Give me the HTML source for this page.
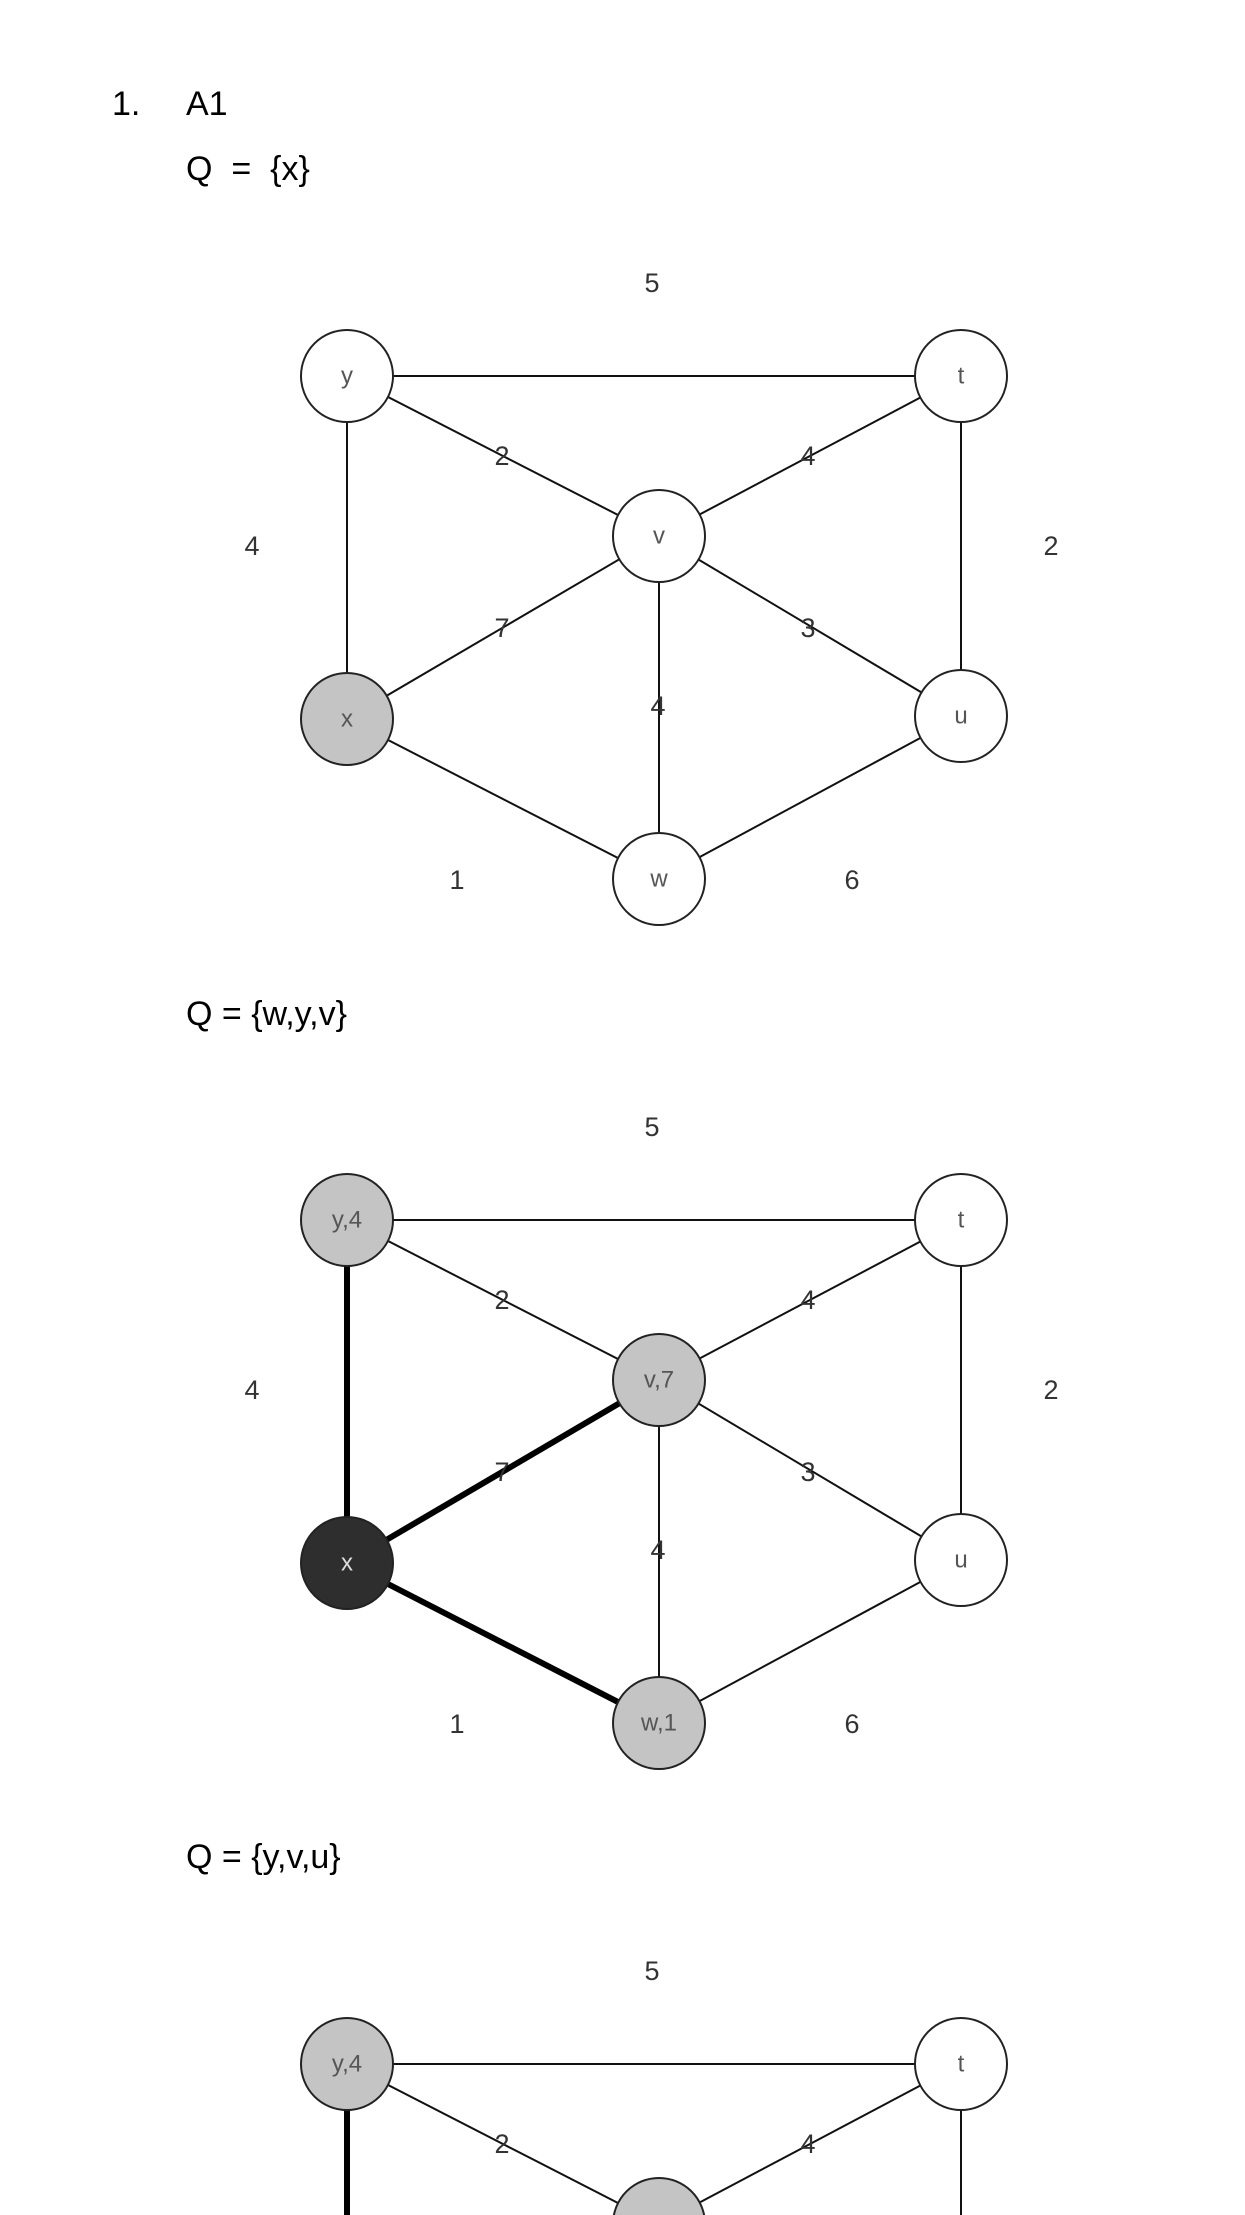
<!DOCTYPE html>
<html><head><meta charset="utf-8"><style>
html,body{margin:0;padding:0;background:#fff;width:1245px;height:2215px;overflow:hidden;}
svg{display:block;}
.t{font-family:"Liberation Sans",sans-serif;font-size:34px;fill:#000;}
.w{font-family:"Liberation Sans",sans-serif;font-size:27px;fill:#333;text-anchor:middle;dominant-baseline:central;}
.n{font-family:"Liberation Sans",sans-serif;font-size:24px;fill:#555;text-anchor:middle;dominant-baseline:central;}
</style></head><body>
<svg width="1245" height="2215" viewBox="0 0 1245 2215" xmlns="http://www.w3.org/2000/svg">
<text class="t" x="112" y="115">1.</text>
<text class="t" x="186" y="115">A1</text>
<text class="t" x="186" y="180" xml:space="preserve">Q  =  {x}</text>
<text class="t" x="186" y="1025">Q = {w,y,v}</text>
<text class="t" x="186" y="1868">Q = {y,v,u}</text>

<!-- Graph 1 -->
<g stroke="#111" stroke-width="2" fill="none">
<line x1="347" y1="376" x2="961" y2="376"/>
<line x1="347" y1="376" x2="347" y2="719"/>
<line x1="961" y1="376" x2="961" y2="716"/>
<line x1="347" y1="376" x2="659" y2="536"/>
<line x1="961" y1="376" x2="659" y2="536"/>
<line x1="347" y1="719" x2="659" y2="536"/>
<line x1="961" y1="716" x2="659" y2="536"/>
<line x1="659" y1="536" x2="659" y2="879"/>
<line x1="347" y1="719" x2="659" y2="879"/>
<line x1="961" y1="716" x2="659" y2="879"/>
</g>
<g stroke="#222" stroke-width="2">
<circle cx="347" cy="376" r="46" fill="#fff"/>
<circle cx="961" cy="376" r="46" fill="#fff"/>
<circle cx="659" cy="536" r="46" fill="#fff"/>
<circle cx="347" cy="719" r="46" fill="#c4c4c4"/>
<circle cx="961" cy="716" r="46" fill="#fff"/>
<circle cx="659" cy="879" r="46" fill="#fff"/>
</g>
<text class="n" x="347" y="376">y</text><text class="n" x="961" y="376">t</text>
<text class="n" x="659" y="536">v</text><text class="n" x="347" y="719">x</text>
<text class="n" x="961" y="716">u</text><text class="n" x="659" y="879">w</text>
<text class="w" x="652" y="283">5</text><text class="w" x="252" y="546">4</text>
<text class="w" x="1051" y="546">2</text><text class="w" x="502" y="456">2</text>
<text class="w" x="808" y="456">4</text><text class="w" x="502" y="628">7</text>
<text class="w" x="808" y="628">3</text><text class="w" x="658" y="706">4</text>
<text class="w" x="457" y="880">1</text><text class="w" x="852" y="880">6</text>

<!-- Graph 2 -->
<g transform="translate(0,844)">
<g stroke="#111" stroke-width="2" fill="none">
<line x1="347" y1="376" x2="961" y2="376"/>
<line x1="961" y1="376" x2="961" y2="716"/>
<line x1="347" y1="376" x2="659" y2="536"/>
<line x1="961" y1="376" x2="659" y2="536"/>
<line x1="961" y1="716" x2="659" y2="536"/>
<line x1="659" y1="536" x2="659" y2="879"/>
<line x1="961" y1="716" x2="659" y2="879"/>
</g>
<g stroke="#000" stroke-width="6">
<line x1="347" y1="376" x2="347" y2="719"/>
<line x1="347" y1="719" x2="659" y2="536"/>
<line x1="347" y1="719" x2="659" y2="879"/>
</g>
<g stroke="#222" stroke-width="2">
<circle cx="347" cy="376" r="46" fill="#c4c4c4"/>
<circle cx="961" cy="376" r="46" fill="#fff"/>
<circle cx="659" cy="536" r="46" fill="#c4c4c4"/>
<circle cx="347" cy="719" r="46" fill="#2e2e2e"/>
<circle cx="961" cy="716" r="46" fill="#fff"/>
<circle cx="659" cy="879" r="46" fill="#c4c4c4"/>
</g>
<text class="n" x="347" y="376">y,4</text><text class="n" x="961" y="376">t</text>
<text class="n" x="659" y="536">v,7</text><text class="n" x="347" y="719" style="fill:#ddd">x</text>
<text class="n" x="961" y="716">u</text><text class="n" x="659" y="879">w,1</text>
<text class="w" x="652" y="283">5</text><text class="w" x="252" y="546">4</text>
<text class="w" x="1051" y="546">2</text><text class="w" x="502" y="456">2</text>
<text class="w" x="808" y="456">4</text><text class="w" x="502" y="628">7</text>
<text class="w" x="808" y="628">3</text><text class="w" x="658" y="706">4</text>
<text class="w" x="457" y="880">1</text><text class="w" x="852" y="880">6</text>
</g>

<!-- Graph 3 -->
<g transform="translate(0,1688)">
<g stroke="#111" stroke-width="2" fill="none">
<line x1="347" y1="376" x2="961" y2="376"/>
<line x1="961" y1="376" x2="961" y2="716"/>
<line x1="347" y1="376" x2="659" y2="536"/>
<line x1="961" y1="376" x2="659" y2="536"/>
</g>
<g stroke="#000" stroke-width="6">
<line x1="347" y1="376" x2="347" y2="719"/>
</g>
<g stroke="#222" stroke-width="2">
<circle cx="347" cy="376" r="46" fill="#c4c4c4"/>
<circle cx="961" cy="376" r="46" fill="#fff"/>
<circle cx="659" cy="536" r="46" fill="#c4c4c4"/>
</g>
<text class="n" x="347" y="376">y,4</text><text class="n" x="961" y="376">t</text>
<text class="w" x="652" y="283">5</text>
<text class="w" x="502" y="456">2</text>
<text class="w" x="808" y="456">4</text>
<text class="w" x="252" y="546">4</text><text class="w" x="1051" y="546">2</text>
</g>
</svg>
</body></html>
